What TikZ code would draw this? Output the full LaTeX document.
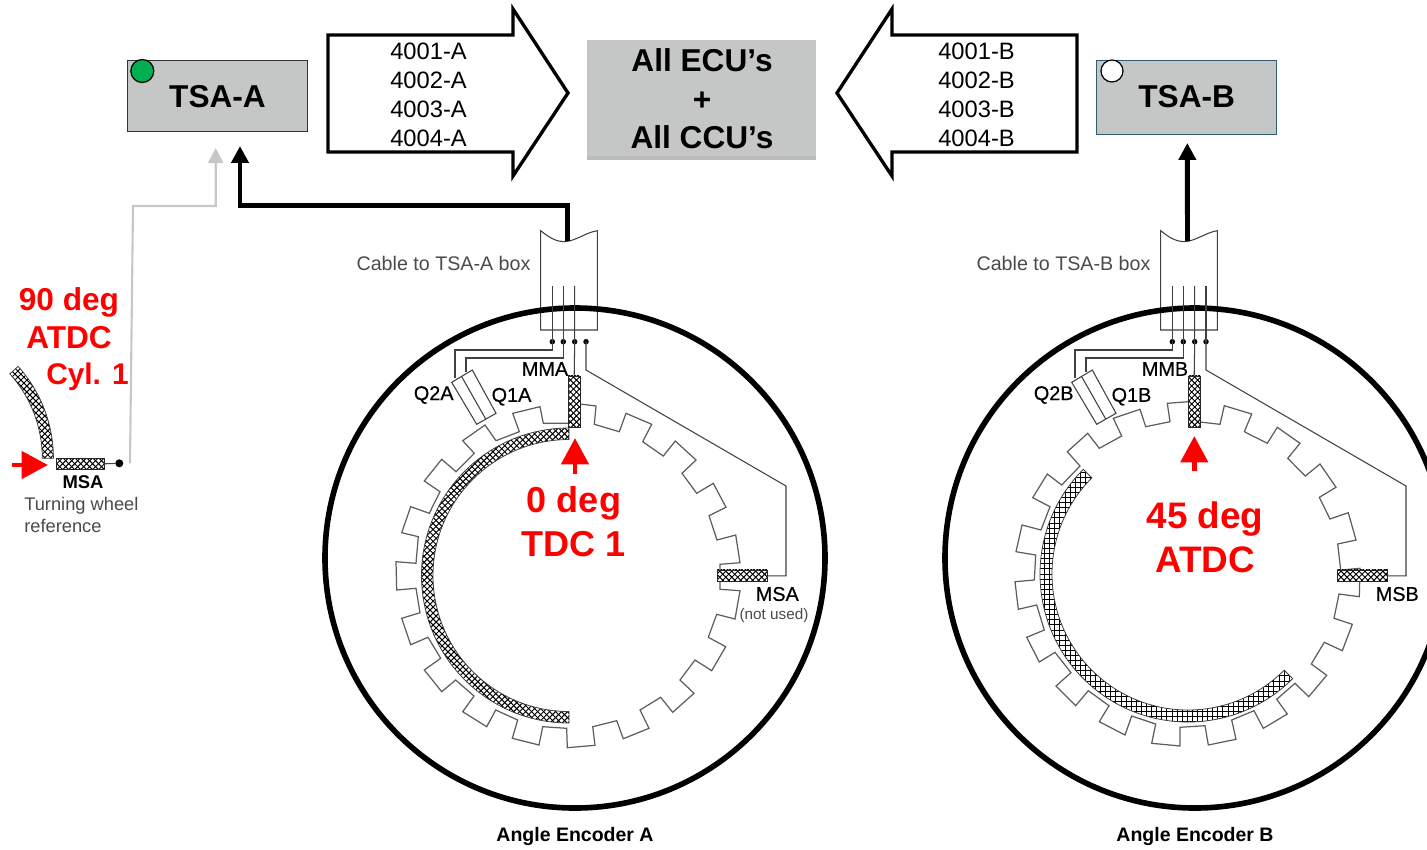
\documentclass[tikz,border=0pt]{standalone}
\usepackage{fontspec}
\setmainfont{Liberation Sans}
\newfontfamily\partfont[FakeBold=0.5]{Liberation Sans}
\usepackage{tikz}
\usetikzlibrary{positioning}
\usetikzlibrary{arrows.meta}
\usetikzlibrary{patterns}
\usetikzlibrary{shadows}
\definecolor{boxgray}{HTML}{C5C7C6}
\definecolor{labelgray}{HTML}{4A4A4A}
\definecolor{wiregray}{HTML}{404040}
\definecolor{tsablue}{HTML}{2F5B75}
\definecolor{ledgreen}{HTML}{00B050}
\pgfdeclarepatternformonly{diamonds}{\pgfqpoint{-1pt}{-1pt}}{\pgfqpoint{4.4pt}{4.4pt}}{\pgfqpoint{3.4pt}{3.4pt}}{
    \pgfsetlinewidth{.55pt}
    \pgfpathmoveto{\pgfqpoint{0pt}{0pt}}
    \pgfpathlineto{\pgfqpoint{3.4pt}{3.4pt}}
    \pgfpathmoveto{\pgfqpoint{0pt}{3.4pt}}
    \pgfpathlineto{\pgfqpoint{3.4pt}{0pt}}
    \pgfusepath{stroke}
}
\pgfdeclarepatternformonly{squares}{\pgfqpoint{-1pt}{-1pt}}{\pgfqpoint{3.9pt}{3.9pt}}{\pgfqpoint{2.9pt}{2.9pt}}{
    \pgfsetlinewidth{.4pt}
    \pgfpathmoveto{\pgfqpoint{0pt}{0pt}}
    \pgfpathlineto{\pgfqpoint{2.9pt}{0pt}}
    \pgfpathmoveto{\pgfqpoint{0pt}{0pt}}
    \pgfpathlineto{\pgfqpoint{0pt}{2.9pt}}
    \pgfusepath{stroke}
}

\begin{document}
\begin{tikzpicture}[
        x=0.02cm, y=-0.02cm,
        tsabox/.style={
            rectangle,
            draw=black!80,
            fill=boxgray,
            minimum width=3.6cm,
            minimum height=1.43cm,
            inner sep=0pt,
            font=\fontsize{18}{20}\selectfont\bfseries
        },
        eculabel/.style={
            align=center,
            inner sep=0pt,
            font=\fontsize{18}{22}\selectfont\bfseries
        },
        idlabel/.style={
            align=center,
            inner sep=0pt,
            font=\fontsize{13.5}{16.55}\selectfont
        },
        redlabel/.style={
            align=center,
            inner sep=0pt,
            text=red,
            font=\fontsize{20.5}{25}\selectfont\bfseries
        },
        bigarrow/.style={
            draw=black,
            line width=1.9pt,
            miter limit=10,
            fill=white
        },
        arrow/.style={
            -{Triangle[length=9.6pt,width=9.6pt]},
            line width=2.8pt
        },
        redarrow/.style={
            -{Triangle[length=15pt,width=15.3pt]},
            line width=2.8pt,
            red
        },
        sensor/.style={
            rectangle,
            draw=black!85,
            line width=.45pt,
            inner sep=0pt,
            preaction={fill=white},
            pattern=diamonds
        },
        strip/.style={
            draw=black!75,
            line width=.45pt,
            preaction={fill=white},
            pattern=diamonds
        },
        dot/.style={
            circle,
            fill=black,
            inner sep=0pt,
            minimum size=.11cm
        },
        wire/.style={wiregray, line width=.6pt},
        wheelline/.style={wiregray!85, line width=.7pt, line join=miter},
        graytext/.style={
            inner sep=0pt,
            text=labelgray,
            font=\fontsize{11.2}{12.5}\selectfont
        },
        parttext/.style={
            inner sep=0pt,
            font=\partfont\fontsize{11.3}{13}\selectfont
        },
        enctext/.style={
            inner sep=0pt,
            font=\fontsize{11.1}{13}\selectfont\bfseries
        }
    ]

    \useasboundingbox (0,0) rectangle (1427,849);
    \clip (0,0) rectangle (1427,849);

    % Boxes
    \node[tsabox] (tsaa) at (217.5,95.7) {};
    \node[inner sep=0pt, font=\fontsize{18}{20}\selectfont\bfseries] (tsaatext) at (217.5,96.8) {TSA-A};
    \node[tsabox, draw=tsablue, minimum height=1.49cm] (tsab) at (1186.7,97.2) {};
    \node[inner sep=0pt, font=\fontsize{18}{20}\selectfont\bfseries] (tsabtext) at (1186.7,96.8) {TSA-B};
    \node[circle, draw=black, line width=.7pt, fill=ledgreen, inner sep=0pt, minimum size=.46cm] (leda) at (142.3,71) {};
    \node[circle, draw=black, line width=.7pt, fill=white, inner sep=0pt, minimum size=.44cm] (ledb) at (1112,71) {};
    \node[rectangle, fill=boxgray, minimum width=4.58cm, minimum height=2.32cm, inner sep=0pt,
        drop shadow={shadow xshift=0pt, shadow yshift=-2pt, fill=black!75, opacity=.35}] (ecu) at (701.5,98) {};
    \node[eculabel] (ecutext) at (702,98.7) {All ECU’s\\+\\All CCU’s};

    % Big arrows
    \draw[bigarrow] (328,35) -- (513,35) -- (513,9) -- (568,93) -- (513,176) -- (513,152) -- (328,152) -- cycle;
    \draw[bigarrow] (1077,35) -- (892,35) -- (892,9) -- (837,93) -- (892,176) -- (892,152) -- (1077,152) -- cycle;
    \node[idlabel] (idsa) at (428.5,94.5) {4001-A\\4002-A\\4003-A\\4004-A};
    \node[idlabel] (idsb) at (976.5,94.5) {4001-B\\4002-B\\4003-B\\4004-B};

    % Encoder parts shared by both sides
    \foreach \dx/\enc in {0/A,620/B} {
        \begin{scope}[shift={(\dx,0)}]
            \coordinate (cable\enc) at (567.5,241);
            \draw[wire, fill=white] (540.7,230.7) .. controls (552,240) and (560,243) .. (569,241)
                .. controls (578,239) and (588,232) .. (597.3,230.7) -- (597.3,330) -- (540.7,330) -- cycle;
            \draw[line width=3.2pt] (575,558) circle[radius=250];

            \node[dot] (dota\enc) at (552.3,341.7) {};
            \node[dot] (dotb\enc) at (563.3,341.7) {};
            \node[dot] (dotc\enc) at (574.7,341.7) {};
            \node[dot] (dotd\enc) at (586,341.7) {};
            \coordinate (topa\enc) at (552.3,286);
            \coordinate (topb\enc) at (563.3,286);
            \coordinate (topc\enc) at (574.7,286);
            \coordinate (qtwo\enc) at (455,378);
            \coordinate (qone\enc) at (466,372);

            \node[sensor, minimum width=.234cm, minimum height=1.03cm] (mm\enc) at (574.2,401.7) {};
            \node[sensor, minimum width=1.008cm, minimum height=.234cm] (ms\enc) at (742.5,575.8) {};

            \draw[wire] (topa\enc) -- (dota\enc.center) -- ++(0,8.3) -| (qtwo\enc);
            \draw[wire] (topb\enc) -- (dotb\enc.center) -- ++(0,16.3) -| (qone\enc);
            \draw[wire] (topc\enc) -- (dotc\enc.center) -- (mm\enc.north);
            \draw[wire] (dotd\enc.center) -- ++(0,28.3) -- ++(200,116) |- (ms\enc.east);

            \draw[wire, fill=white] (451.7,382.3) -- (472.3,370) -- (496,413.3) -- (476.7,424.3) -- cycle;
            \draw[wire] (461.7,376.7) -- (485.7,419);

            \node[graytext] (cabletext\enc) at (443.5,263.3) {Cable to TSA-\enc{} box};
            \node[parttext] (qtwotext\enc) at (433.7,395) {Q2\enc};
            \node[parttext] (qonetext\enc) at (511.5,396.7) {Q1\enc};
            \node[parttext] (mmtext\enc) at (545,369) {MM\enc};
            \node[parttext] (mstext\enc) at (777.3,594) {MS\enc};
            \node[enctext] (enctext\enc) at (575,836) {Angle Encoder \enc};
        \end{scope}
    }
    \coordinate (topdB) at (1206,286);
    \draw[wire] (topdB) -- (dotdB.center);
    \node[inner sep=0pt, text=labelgray, font=\fontsize{8.7}{10}\selectfont] (notused) at (774,616) {(not used)};

    % Toothed wheels
    \draw[wheelline] plot coordinates {(580,404) (596,406) (594.3,424.3) (619.3,431.7) (626,413.3) (651.7,424.3) (642.7,441.7) (663.3,456)
        (675.3,441) (696,460) (682,473.3) (696.7,493.3) (713.3,483.3) (726,507.3) (709,515.7) (717,540) (735.7,535) (740,562.7)
        (720,564.3) (720,589.3) (740,590.7) (735,619) (716.7,614.3) (708.3,637.3) (725.7,646.7) (711.7,670.7) (695,660) (680,680)
        (694,693.3) (672.7,712.3) (660.7,697.3) (640,710) (649,728.3) (623.3,738.7) (616.7,720.7) (592.7,726.7) (595,745.3) (567.3,747.7)
        (566.7,728.3) (542.7,726.7) (539,745) (512.3,738.3) (517.7,720) (495.7,710) (486.7,726.7) (462.7,711.7) (474,696) (455.7,680)
        (441.7,691.7) (424.3,670) (440.7,658.3) (428,637.3) (410.7,644.7) (401.7,618.3) (420,612.7) (416,588.3) (396.7,590) (396,561.7)
        (416,563.3) (418.3,536.7) (401.7,532.7) (410.7,506.7) (429.3,513.3) (440,491.7) (424.3,481) (441.7,459.3) (456,471.7) (474.3,453.3)
        (462.7,440.7) (485,425) (496,440.7) (519.3,431.7) (512.7,413.3) (540,406.7) (543.3,423.3) (568.3,423.3)};
    \draw[wheelline] plot coordinates {(1200,422) (1220,424.3) (1224.3,405.7) (1251.7,414) (1244.3,431.7) (1267.3,443.3) (1277.3,427.3) (1300,443.3)
        (1287.7,458.3) (1305.3,476) (1320,464) (1336,487.3) (1319.3,497.3) (1330,519) (1348.3,512.7) (1356,540) (1337.7,544) (1340.7,570)
        (1360,568.3) (1359.3,596.7) (1339,594) (1334,618.3) (1352.3,624.3) (1342.3,650.7) (1324.3,642.3) (1311.3,664) (1326.7,675.3) (1308.7,696.7)
        (1295,683.3) (1276.7,699.3) (1287.3,714) (1263.3,728.3) (1254,710.7) (1231.7,720) (1236,739.3) (1208.3,745) (1205,725.7) (1180,727.3)
        (1180,746) (1151.7,743.3) (1155.7,724) (1131.7,716) (1125,735) (1099.3,721.7) (1109,705.7) (1088.3,690.7) (1075.7,705.7) (1056,686)
        (1071,672.7) (1055,652.3) (1039.3,662) (1026.7,637.3) (1044.3,630) (1036.7,605) (1018.3,609.3) (1015,581.7) (1034.3,580) (1035.7,555)
        (1016,551.7) (1022,525) (1041,530) (1050,506.7) (1032.7,497.7) (1047.3,474) (1061.7,485) (1080,466) (1067.3,451.7) (1087.7,433.3)
        (1099.3,448.3) (1121.7,436) (1113.3,418.3) (1140,409.3) (1145.7,426.7) (1170,421.7) (1167.3,403.3) (1188.3,401.7)};

    % Redraw the sensors over the wheels
    \foreach \enc/\mmx/\msx in {A/574.2/742.5,B/1194.2/1362.5} {
        \node[sensor, minimum width=.234cm, minimum height=1.03cm] at (\mmx,401.7) {};
        \node[sensor, minimum width=1.008cm, minimum height=.234cm] at (\msx,575.8) {};
    }

    % Hatched strips
    \draw[strip] (569,428) arc[start angle=270, end angle=90, radius=147.5]
        -- (569,711.5) arc[start angle=90, end angle=270, radius=136] -- cycle;
    \coordinate (centerb) at (1188,574);
    \draw[strip, pattern=squares] ([shift={(225:148)}]centerb) arc[start angle=225, end angle=45, radius=148]
        -- ([shift={(45:136)}]centerb) arc[start angle=45, end angle=225, radius=136] -- cycle;

    % Turning wheel reference
    \coordinate (centerc) at (-84,458.3);
    \draw[strip] ([shift={(0:137.4)}]centerc) arc[start angle=0, end angle=-42, radius=137.4]
        -- ([shift={(-42:126.3)}]centerc) arc[start angle=-42, end angle=0, radius=126.3] -- cycle;
    \node[sensor, minimum width=.96cm, minimum height=.22cm] (msc) at (80,463.8) {};
    \node[circle, fill=black, inner sep=0pt, minimum size=.16cm] (dotc) at (119.3,463.3) {};
    \draw[wire] (msc.east) -- (dotc);
    \node[inner sep=0pt, font=\fontsize{10.5}{12}\selectfont\bfseries] (msctext) at (83,481.7) {MSA};
    \node[graytext, align=left, anchor=north west, font=\fontsize{10.4}{12.5}\selectfont] (turntext) at (24,497) {Turning wheel\\reference};

    % Arrows
    \coordinate (grayfoot) at (130,463);
    \coordinate (tipgray) at (215.7,148);
    \coordinate (tipa) at (240,146);
    \coordinate (tipb) at (1187.3,143);
    \draw[arrow, line width=1.2pt, black!22, -{Triangle[length=8.6pt,width=8.6pt]}] (grayfoot) -- (133,206) -| (tipgray);
    \draw[arrow] (cableA) |- (tipa |- 0,205.7) -- (tipa);
    \draw[arrow] (cableB) -- (tipb);

    % Red marks
    \coordinate (markc) at (48,465);
    \coordinate (marka) at (575,438);
    \coordinate (markb) at (1194.3,436);
    \draw[redarrow] (12,465) -- (markc);
    \draw[redarrow] (575,474) -- (marka);
    \draw[redarrow] (1194.3,470.7) -- (markb);
    \node[redlabel, font=\fontsize{18}{21.5}\selectfont\bfseries] (nineties) at (69,318) {90 deg\\ATDC};
    \node[redlabel, font=\fontsize{17}{21.5}\selectfont\bfseries] (cyl) at (87.5,376.5) {Cyl. 1};
    \node[redlabel] (zerotext) at (574,522) {0 deg\\TDC 1};
    \node[redlabel, font=\fontsize{21}{25}\selectfont\bfseries] (ftext) at (1205,537.3) {45 deg\\ATDC};

    \end{tikzpicture}
\end{document}
